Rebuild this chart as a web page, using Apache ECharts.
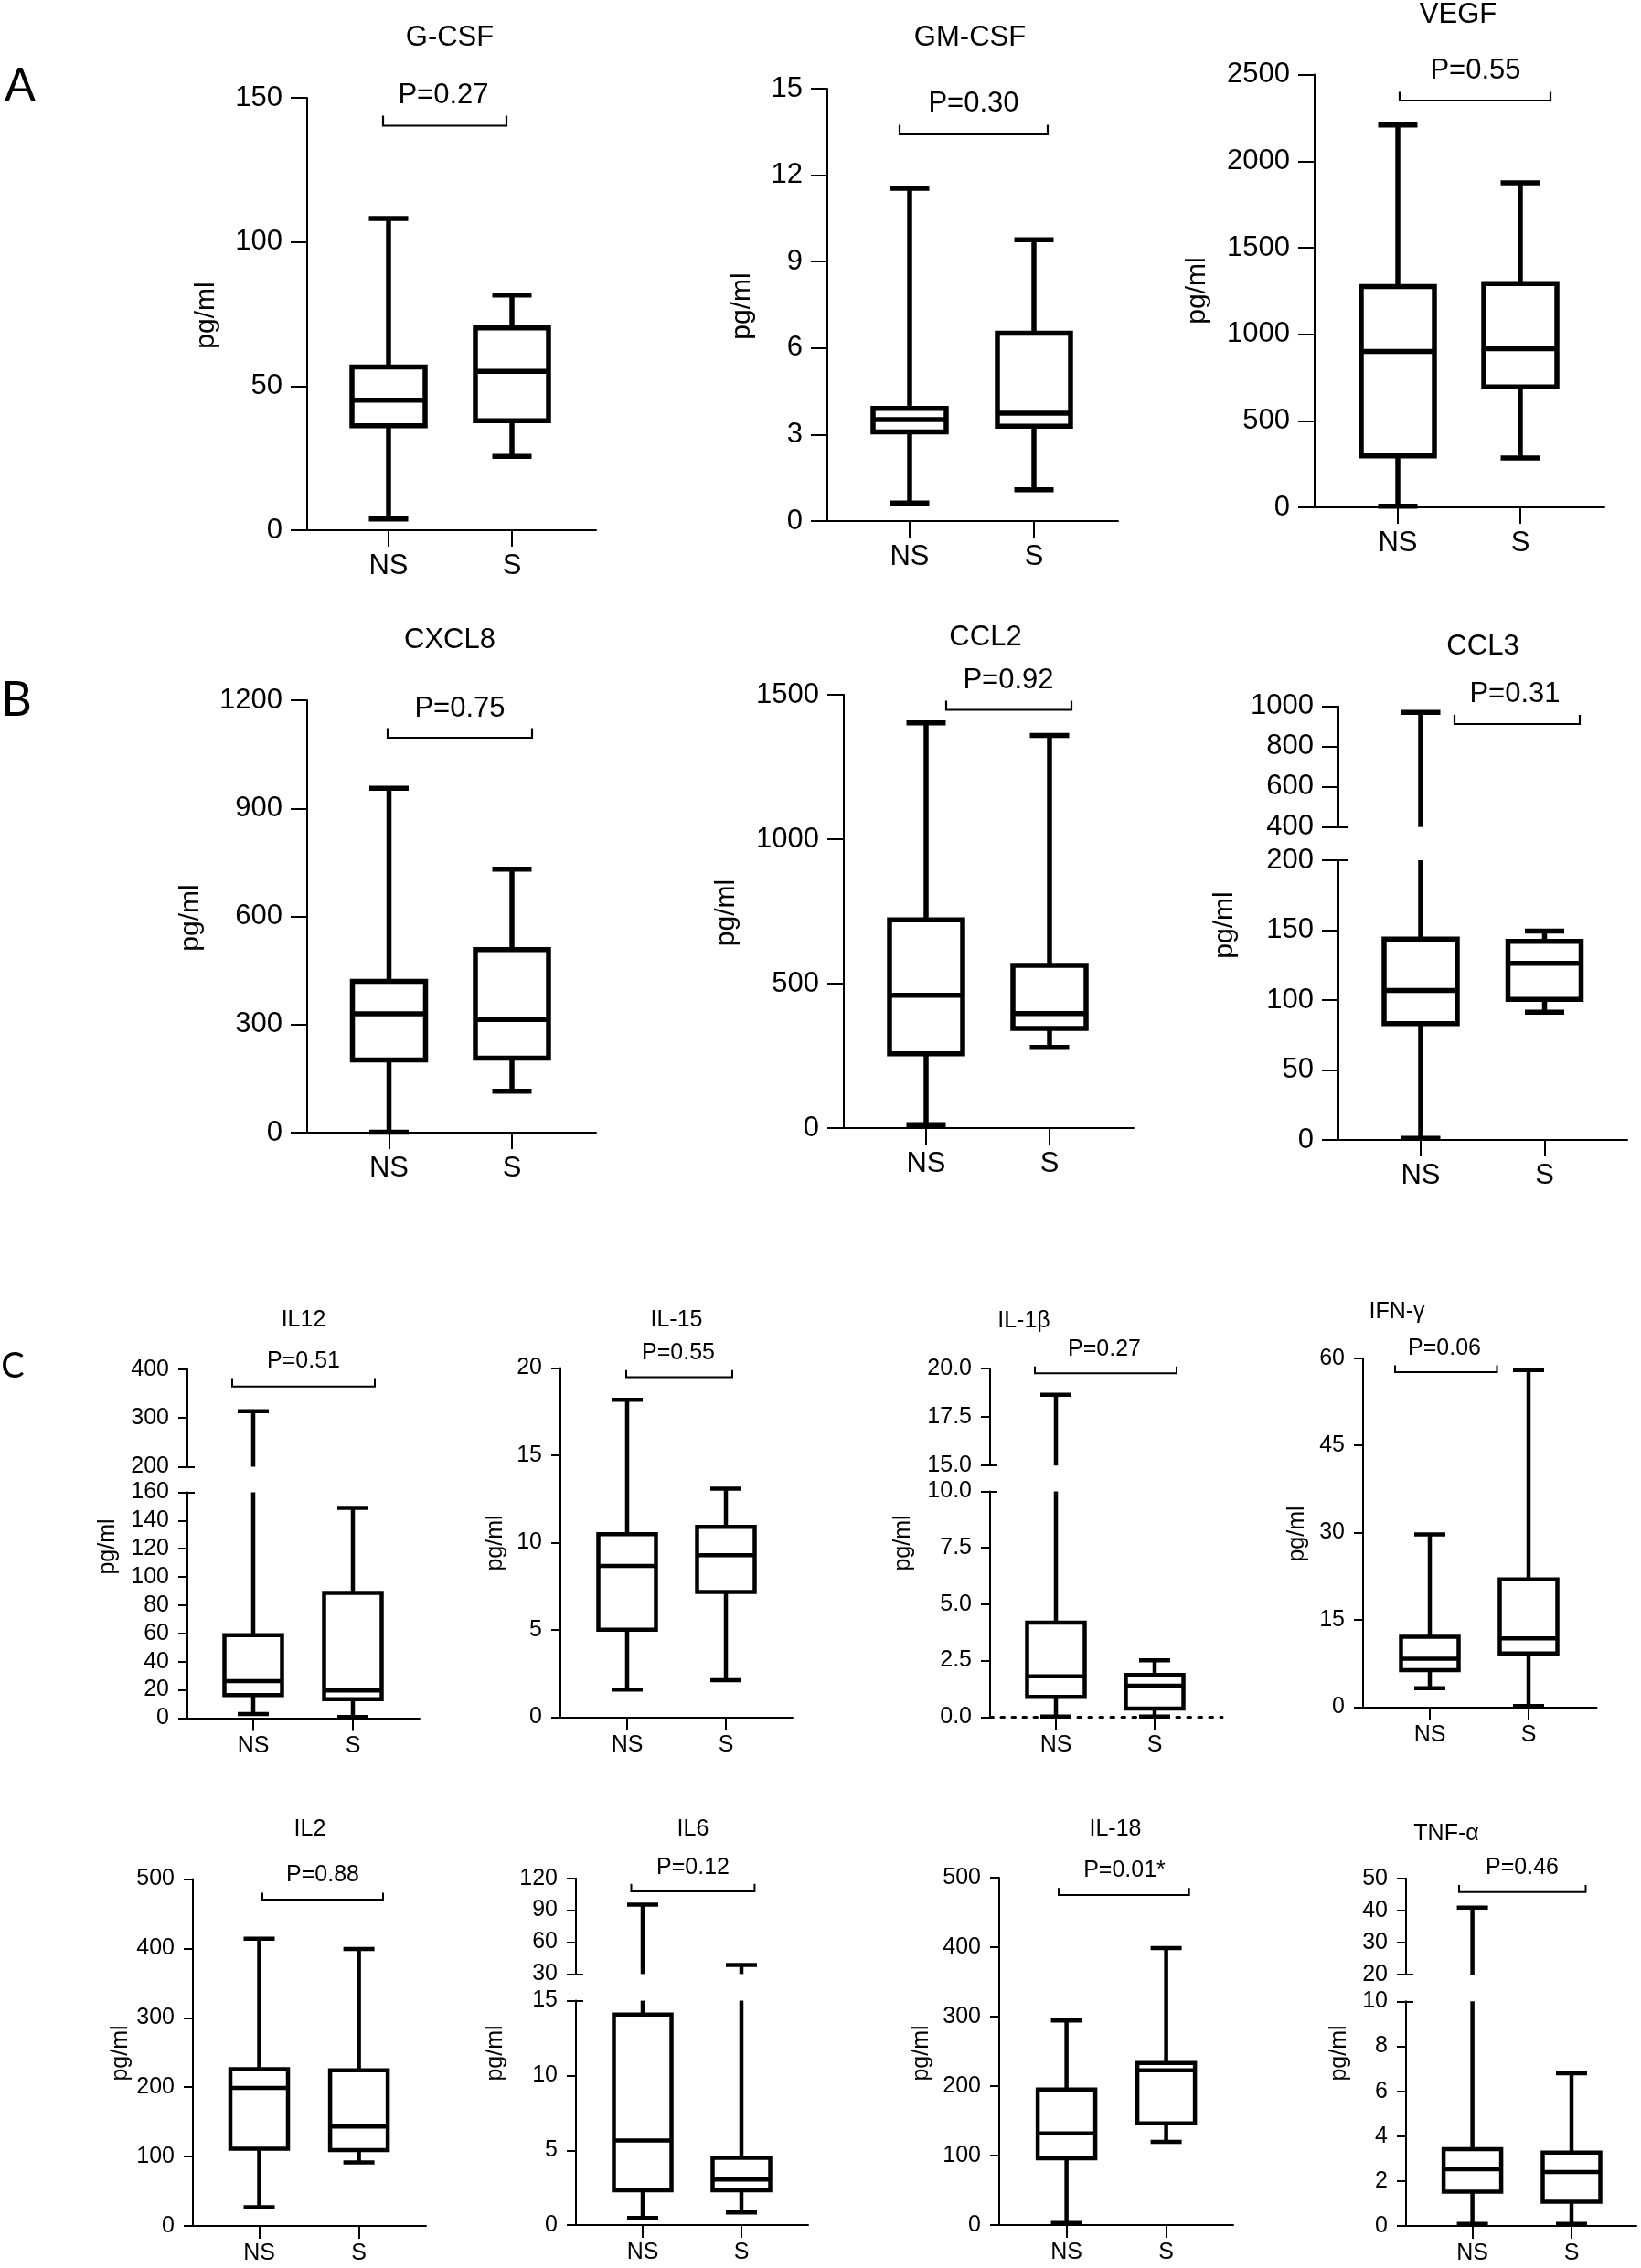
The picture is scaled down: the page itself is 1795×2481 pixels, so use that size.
<!DOCTYPE html>
<html><head><meta charset="utf-8">
<script src="https://cdn.jsdelivr.net/npm/echarts@6/dist/echarts.min.js"></script>
<style>html,body{margin:0;padding:0;background:#fff}#c{width:1795px;height:2481px}</style>
</head><body><div id="c"></div>
<script>
// ---------- DATA ----------
const categories = ['NS', 'S'];
// each group: [min, Q1, median, Q3, max]  (pg/ml)
const gcsfNS  = [3.9, 36.2, 45.1, 56.6, 108.1];
const gcsfS   = [25.6, 38.0, 55.1, 70.2, 81.6];
const gmcsfNS = [0.63, 3.09, 3.52, 3.91, 11.54];
const gmcsfS  = [1.09, 3.29, 3.74, 6.52, 9.76];
const vegfNS  = [6, 297, 901, 1276, 2209];
const vegfS   = [285, 696, 916, 1293, 1875];
const cxcl8NS = [1, 202, 330, 420, 956];
const cxcl8S  = [115, 207, 314, 508, 731];
const ccl2NS  = [12, 257, 460, 721, 1403];
const ccl2S   = [279, 345, 396, 563, 1359];
const ccl3NS  = [1.2, 83.2, 106.8, 143.7, 970];
const ccl3S   = [91.3, 100.5, 126.3, 142, 149.3];
const il12NS  = [2.9, 16.3, 26.1, 58.7, 314];
const il12S   = [0.7, 13.4, 19.6, 88.6, 149];
const il15NS  = [1.58, 5.0, 8.66, 10.48, 18.17];
const il15S   = [2.11, 7.16, 9.27, 10.9, 13.08];
const il1bNS  = [0.02, 0.89, 1.80, 4.18, 18.65];
const il1bS   = [0.02, 0.38, 1.39, 1.87, 2.51];
const ifngNS  = [3.24, 6.34, 8.29, 12.07, 29.67];
const ifngS   = [0.16, 9.2, 11.81, 21.93, 57.94];
const il2NS   = [27.1, 111.5, 199, 226, 414];
const il2S    = [91.8, 109.3, 143.4, 224.4, 399];
const il6NS   = [0.48, 2.33, 5.66, 14.08, 95.2];
const il6S    = [0.85, 2.33, 3.04, 4.5, 38.6];
const il18NS  = [3, 96.2, 132, 195.3, 294.5];
const il18S   = [120, 146.4, 222.8, 233.4, 398.6];
const tnfaNS  = [0.1, 1.53, 2.53, 3.42, 40.9];
const tnfaS   = [0.1, 1.08, 2.4, 3.27, 6.8];

// tick labels (lower segment, upper segment for broken axes)
const gcsfTicks  = [0, 50, 100, 150];
const gmcsfTicks = [0, 3, 6, 9, 12, 15];
const vegfTicks  = [0, 500, 1000, 1500, 2000, 2500];
const cxcl8Ticks = [0, 300, 600, 900, 1200];
const ccl2Ticks  = [0, 500, 1000, 1500];
const ccl3TicksLow  = [0, 50, 100, 150, 200];
const ccl3TicksHigh = [400, 600, 800, 1000];
const il12TicksLow  = [0, 20, 40, 60, 80, 100, 120, 140, 160];
const il12TicksHigh = [200, 300, 400];
const il15Ticks  = [0, 5, 10, 15, 20];
const il1bTicksLow  = [0, 2.5, 5, 7.5, 10];
const il1bTicksHigh = [15, 17.5, 20];
const ifngTicks  = [0, 15, 30, 45, 60];
const il2Ticks   = [0, 100, 200, 300, 400, 500];
const il6TicksLow   = [0, 5, 10, 15];
const il6TicksHigh  = [30, 60, 90, 120];
const il18Ticks  = [0, 100, 200, 300, 400, 500];
const tnfaTicksLow  = [0, 2, 4, 6, 8, 10];
const tnfaTicksHigh = [20, 30, 40, 50];

const titles = ['G-CSF','GM-CSF','VEGF','CXCL8','CCL2','CCL3','IL12','IL-15','IL-1β','IFN-γ','IL2','IL6','IL-18','TNF-α'];
const pvalues = ['P=0.27','P=0.30','P=0.55','P=0.75','P=0.92','P=0.31','P=0.51','P=0.55','P=0.27','P=0.06','P=0.88','P=0.12','P=0.01*','P=0.46'];
const yName = 'pg/ml';

// ---------- LAYOUT (pixels) ----------
const STY = {
  big:   {font: 31, lw: 5.5, boxW: 80, capW: 43, yTick: 18, xTick: 18, yMargin: 27, xMargin: 24, axisW: 2, breakIn: 11, brW: 2.2, nameFont: 30},
  small: {font: 25, lw: 4.5, boxW: 63, capW: 34, yTick: 10, xTick: 14, yMargin: 20, xMargin: 18, axisW: 2, breakIn: 8, brW: 2, nameFont: 25}
};
const FONT = 'Liberation Sans, Arial, sans-serif';

const panels = [
  {ns: gcsfNS, s: gcsfS, ticks: [gcsfTicks], sz: 'big', ax: 336, xe: 652, nsx: 425, sx: 560, ys: [[107, 580]], t: [492, 41], p: [485, 104], br: [419, 554, 137.5, 126.5], yl: [226, 345]},
  {ns: gmcsfNS, s: gmcsfS, ticks: [gmcsfTicks], sz: 'big', ax: 905, xe: 1223, nsx: 995, sx: 1131, ys: [[97, 570]], t: [1061, 41], p: [1065, 113], br: [984, 1146, 147, 136.5], yl: [812, 335]},
  {ns: vegfNS, s: vegfS, ticks: [vegfTicks], sz: 'big', ax: 1438, xe: 1755, nsx: 1529, sx: 1663, ys: [[81.6, 555]], t: [1595, 16], p: [1614, 77], br: [1531, 1696, 110, 100.5], yl: [1310, 318]},
  {ns: cxcl8NS, s: cxcl8S, ticks: [cxcl8Ticks], sz: 'big', ax: 336, xe: 652, nsx: 425.5, sx: 560, ys: [[766, 1239]], t: [492, 700], p: [503, 775], br: [424, 582, 807, 796.5], yl: [208.5, 1004]},
  {ns: ccl2NS, s: ccl2S, ticks: [ccl2Ticks], sz: 'big', ax: 923, xe: 1240, nsx: 1013, sx: 1148, ys: [[760, 1234]], t: [1078, 697], p: [1103, 744], br: [1035, 1172, 776.5, 766.5], yl: [795, 998.5]},
  {ns: ccl3NS, s: ccl3S, ticks: [ccl3TicksLow, ccl3TicksHigh], sz: 'big', ax: 1464, xe: 1780, nsx: 1554, sx: 1689.5, ys: [[941, 1247], [772.7, 904.7]], t: [1622, 707], p: [1657, 759], br: [1591, 1728, 792, 782], yl: [1340, 1012]},
  {ns: il12NS, s: il12S, ticks: [il12TicksLow, il12TicksHigh], sz: 'small', ax: 205, xe: 459, nsx: 277, sx: 386, ys: [[1632.4, 1879.4], [1497.8, 1604.5]], t: [332, 1444], p: [332, 1489.5], br: [254, 410, 1516.7, 1507.4], yl: [118, 1692]},
  {ns: il15NS, s: il15S, ticks: [il15Ticks], sz: 'small', ax: 613, xe: 867, nsx: 686, sx: 794, ys: [[1496.4, 1878.3]], t: [740, 1444], p: [742, 1480], br: [685, 801, 1506.4, 1498.8], yl: [542, 1688]},
  {ns: il1bNS, s: il1bS, ticks: [il1bTicksLow, il1bTicksHigh], sz: 'small', dotted: true, dec: 1, ax: 1083, xe: 1337, nsx: 1155, sx: 1263, ys: [[1631.4, 1878.3], [1497.1, 1603.2]], t: [1120, 1445], p: [1208, 1476], br: [1132, 1287, 1502.3, 1494.7], yl: [988.5, 1688]},
  {ns: ifngNS, s: ifngS, ticks: [ifngTicks], sz: 'small', ax: 1491, xe: 1746.5, nsx: 1564, sx: 1672, ys: [[1485.7, 1867.3]], t: [1528, 1435], p: [1580, 1475], br: [1526, 1637.5, 1501, 1493.6], yl: [1419, 1678]},
  {ns: il2NS, s: il2S, ticks: [il2Ticks], sz: 'small', ax: 211, xe: 466, nsx: 283.5, sx: 392.6, ys: [[2055.4, 2435.1]], t: [339, 2001], p: [353, 2051], br: [287, 419, 2078, 2070.6], yl: [132, 2246]},
  {ns: il6NS, s: il6S, ticks: [il6TicksLow, il6TicksHigh], sz: 'small', ax: 630, xe: 884, nsx: 703, sx: 811, ys: [[2188.6, 2434.1], [2054.7, 2159.4]], t: [758, 2001], p: [758, 2043], br: [690.5, 825.4, 2069, 2060.7], yl: [542, 2246]},
  {ns: il18NS, s: il18S, ticks: [il18Ticks], sz: 'small', ax: 1093, xe: 1349, nsx: 1166.6, sx: 1275.6, ys: [[2054, 2434.1]], t: [1220, 2001], p: [1230, 2046], br: [1158, 1300.7, 2073, 2065.3], yl: [1008.5, 2246]},
  {ns: tnfaNS, s: tnfaS, ticks: [tnfaTicksLow, tnfaTicksHigh], sz: 'small', ax: 1538, xe: 1790, nsx: 1610.6, sx: 1719, ys: [[2189.3, 2435.1], [2054.7, 2160]], t: [1582, 2006], p: [1665, 2043], br: [1596, 1734.5, 2069.7, 2062], yl: [1465, 2246]}
];
const rowLabels = [
  {text: 'A', x: 22, y: 94, size: 50},
  {text: 'B', x: 18, y: 766, size: 52},
  {text: 'C', x: 14, y: 1495, size: 38}
];

// ---------- BUILD ----------
function makeRender(lo, hi, s) {
  return function (params, api) {
    const x = api.value(0);
    const mn = api.value(1), q1 = api.value(2), md = api.value(3), q3 = api.value(4), mx = api.value(5);
    const X = api.coord([x, lo])[0];
    const cy = (v) => api.coord([x, v])[1];
    const style = {stroke: '#000', lineWidth: s.lw, fill: 'none'};
    const ch = [];
    const inR = (v) => v >= lo - 1e-9 && v <= hi + 1e-9;
    const seg = (a, b) => {
      const a2 = Math.max(a, lo), b2 = Math.min(b, hi);
      if (b2 > a2) ch.push({type: 'line', shape: {x1: X, y1: cy(a2), x2: X, y2: cy(b2)}, style});
    };
    const hline = (v, w) => {
      if (inR(v)) ch.push({type: 'line', shape: {x1: X - w / 2, y1: cy(v), x2: X + w / 2, y2: cy(v)}, style});
    };
    seg(q3, mx);
    seg(mn, q1);
    hline(mx, s.capW);
    hline(mn, s.capW);
    if (q1 >= lo && q3 <= hi) {
      ch.push({type: 'rect', shape: {x: X - s.boxW / 2, y: cy(q3), width: s.boxW, height: cy(q1) - cy(q3)}, style});
      hline(md, s.boxW);
    }
    return {type: 'group', children: ch};
  };
}

const grid = [], xAxis = [], yAxis = [], series = [], graphic = [];
panels.forEach((P, pi) => {
  const s = STY[P.sz];
  const span = P.sx - P.nsx;
  const xmin = 1 - (P.nsx - P.ax) / span;
  const xmax = 2 + (P.xe - P.sx) / span;
  const data = [[1].concat(P.ns), [2].concat(P.s)];
  P.ys.forEach((yy, si) => {
    const ticks = P.ticks[si];
    const lo = ticks[0], hi = ticks[ticks.length - 1];
    const gi = grid.length;
    grid.push({left: P.ax, top: yy[0], width: P.xe - P.ax, height: yy[1] - yy[0], containLabel: false});
    const lower = si === 0;
    const xi = xAxis.length;
    xAxis.push({
      gridIndex: gi, type: 'value', min: xmin, max: xmax, show: lower,
      axisLine: {show: true, onZero: false, lineStyle: {color: '#000', width: P.dotted ? 3 : s.axisW, type: P.dotted ? [3.5, 8.5] : 'solid'}},
      axisTick: {show: true, customValues: [1, 2], length: s.xTick, lineStyle: {color: '#000', width: s.axisW}},
      axisLabel: {show: true, customValues: [1, 2], margin: s.xMargin, fontSize: s.font, fontFamily: FONT, color: '#000',
        formatter: (v) => categories[Math.round(v) - 1] || ''},
      splitLine: {show: false}
    });
    const yi = yAxis.length;
    yAxis.push({
      gridIndex: gi, type: 'value', position: 'left', min: lo, max: hi, interval: ticks[1] - ticks[0],
      axisLine: {show: true, onZero: false, lineStyle: {color: '#000', width: s.axisW}},
      axisTick: {show: true, length: s.yTick, lineStyle: {color: '#000', width: s.axisW}},
      axisLabel: {show: true, margin: s.yMargin, fontSize: s.font, fontFamily: FONT, color: '#000',
        formatter: (v) => P.dec ? v.toFixed(P.dec) : String(v)},
      splitLine: {show: false}
    });
    if (P.ys.length > 1) {
      yAxis.push({
        gridIndex: gi, type: 'value', position: 'left', min: lo, max: hi, interval: ticks[1] - ticks[0],
        axisLine: {show: false}, axisLabel: {show: false}, splitLine: {show: false},
        axisTick: {show: true, inside: true, length: s.breakIn, customValues: [lower ? hi : lo], lineStyle: {color: '#000', width: s.axisW}}
      });
    }
    series.push({
      type: 'custom', coordinateSystem: 'cartesian2d', xAxisIndex: xi, yAxisIndex: yi,
      clip: false, silent: true, animation: false,
      encode: {x: 0, y: [1, 2, 3, 4, 5]},
      data: data,
      renderItem: makeRender(lo, hi, s)
    });
  });
  // title, p-value, bracket, y-name
  graphic.push({type: 'text', x: P.t[0], y: P.t[1], silent: true,
    style: {text: titles[pi], fontSize: s.font, fontFamily: FONT, fill: '#000', textAlign: 'center', textVerticalAlign: 'middle'}});
  graphic.push({type: 'text', x: P.p[0], y: P.p[1], silent: true,
    style: {text: pvalues[pi], fontSize: s.font, fontFamily: FONT, fill: '#000', textAlign: 'center', textVerticalAlign: 'middle'}});
  graphic.push({type: 'polyline', silent: true,
    shape: {points: [[P.br[0], P.br[3]], [P.br[0], P.br[2]], [P.br[1], P.br[2]], [P.br[1], P.br[3]]]},
    style: {stroke: '#000', lineWidth: s.brW, fill: 'none'}});
  graphic.push({type: 'text', x: P.yl[0], y: P.yl[1], rotation: Math.PI / 2, silent: true,
    style: {text: yName, fontSize: s.nameFont, fontFamily: FONT, fill: '#000', textAlign: 'center', textVerticalAlign: 'middle'}});
});
rowLabels.forEach(r => graphic.push({type: 'text', x: r.x, y: r.y, silent: true,
  style: {text: r.text, fontSize: r.size, fontFamily: 'Lato, Liberation Sans, sans-serif', fill: '#000', textAlign: 'center', textVerticalAlign: 'middle'}}));

const chart = echarts.init(document.getElementById('c'), null, {renderer: 'canvas', width: 1795, height: 2481});
chart.setOption({
  backgroundColor: '#fff',
  animation: false,
  grid, xAxis, yAxis, series, graphic
});
</script></body></html>
